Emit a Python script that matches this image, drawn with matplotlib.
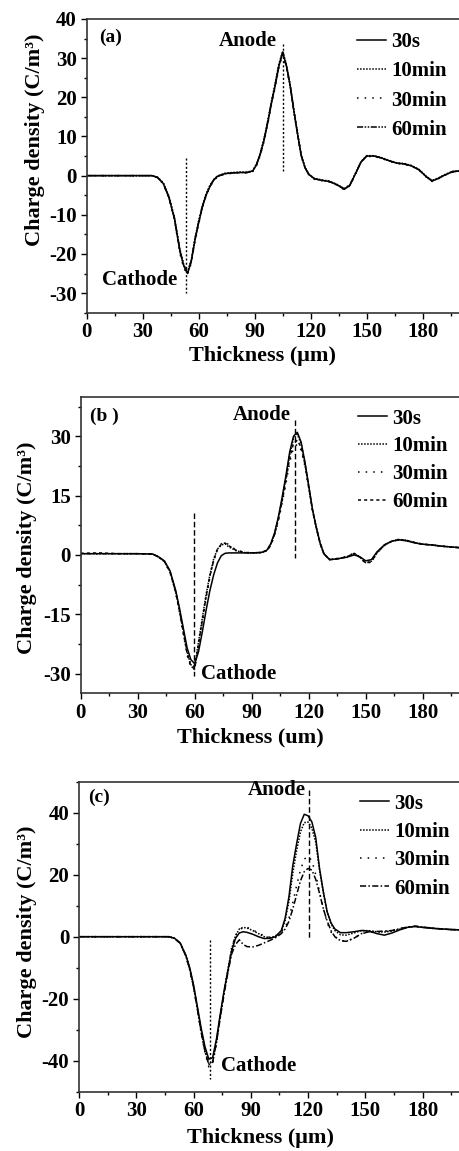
import matplotlib
matplotlib.use("Agg")
import matplotlib.pyplot as plt
from matplotlib.ticker import MultipleLocator, AutoMinorLocator

plt.rcParams['font.family'] = ['Liberation Serif', 'DejaVu Serif']
plt.rcParams['font.weight'] = 'bold'
plt.rcParams['axes.unicode_minus'] = False

# ---------------- data ----------------
series_labels = ["30s", "10min", "30min", "60min"]

# panel (a)
xa = [0, 10, 20, 30, 35, 38, 41, 44, 47, 50, 52, 54, 56, 58, 60, 62, 64, 66, 68, 70,
      74, 78, 82, 86, 89, 91, 93, 95, 97, 99, 101, 103, 105, 107, 109, 111, 113, 115, 117, 119,
      122, 126, 130, 134, 138, 141, 144, 147, 150, 154, 158, 162, 166, 170, 174, 178, 182, 185, 188, 192,
      196, 200]
ya_30s = [0, 0, 0, 0, 0, -0.5, -2, -5.5, -11, -19.5, -23, -25, -22, -16.5, -12, -8, -5, -2.8, -1.2, -0.2,
          0.5, 0.7, 0.8, 0.8, 1.2, 2.8, 5.5, 9, 13.5, 18.5, 23, 28, 31.5, 28, 23, 16.5, 10.5, 5, 2, 0.3,
          -0.8, -1.2, -1.5, -2.3, -3.5, -2.5, 0.5, 3.5, 5, 5, 4.5, 3.8, 3.2, 3, 2.5, 1.5, -0.3, -1.4, -0.8, 0.2,
          1, 1.2]
ya_10min = [0, 0, 0, 0, 0, -0.4, -1.8, -5.2, -10.6, -19, -22.8, -24.6, -21.6, -16, -11.5, -7.6, -4.6, -2.5, -1, -0.1,
            0.6, 0.8, 0.9, 0.9, 1.3, 3, 5.8, 9.4, 14, 19, 23.6, 28.6, 31.8, 28.3, 23.2, 16.8, 10.7, 5.2, 2.1, 0.4,
            -0.7, -1.1, -1.4, -2.2, -3.3, -2.3, 0.6, 3.6, 5.1, 5.1, 4.6, 3.9, 3.3, 3.1, 2.6, 1.6, -0.2, -1.2, -0.7, 0.3,
            1.1, 1.3]
ya_30min = [0, 0, 0, 0, 0, -0.5, -2.1, -5.7, -11.3, -20, -23.6, -25.3, -22.4, -16.8, -12.3, -8.2, -5.1, -2.9, -1.3, -0.3,
            0.4, 0.6, 0.7, 0.7, 1.1, 2.6, 5.2, 8.7, 13.2, 18.2, 22.7, 27.6, 31, 27.6, 22.6, 16.2, 10.3, 4.8, 1.9, 0.2,
            -0.9, -1.3, -1.6, -2.4, -3.6, -2.6, 0.4, 3.4, 4.9, 4.9, 4.4, 3.7, 3.1, 2.9, 2.4, 1.4, -0.4, -1.5, -0.9, 0.1,
            0.9, 1.1]
ya_60min = [0, 0, 0, 0, 0, -0.5, -1.9, -5.4, -10.8, -19.2, -22.9, -24.8, -21.8, -16.3, -11.8, -7.8, -4.8, -2.7, -1.1, -0.2,
            0.5, 0.7, 0.8, 0.8, 1.2, 2.9, 5.6, 9.2, 13.8, 18.8, 23.3, 28.3, 31.3, 28.1, 23, 16.6, 10.6, 5.1, 2, 0.3,
            -0.8, -1.2, -1.5, -2.3, -3.4, -2.4, 0.5, 3.5, 5, 5, 4.5, 3.8, 3.2, 3, 2.5, 1.5, -0.3, -1.3, -0.8, 0.2,
            1, 1.2]

# panel (b)
xb = [0, 10, 20, 30, 38, 41, 44, 47, 50, 52, 54, 56, 58, 60, 62, 64, 66, 68, 70, 72,
      74, 76, 78, 82, 86, 90, 95, 98, 100, 102, 104, 106, 108, 110, 112, 114, 116, 118, 120, 122,
      124, 126, 128, 131, 135, 140, 144, 147, 150, 153, 156, 160, 164, 168, 172, 176, 180, 185, 190, 195,
      200]
yb_30s = [0.3, 0.3, 0.3, 0.3, 0.2, -0.5, -1.5, -4, -9, -13.5, -18.5, -23.5, -26.5, -27.5, -24.5, -19.5, -14, -9, -5, -2,
          -0.2, 0.4, 0.5, 0.5, 0.5, 0.5, 0.6, 1.2, 2.8, 5.5, 9.5, 14.5, 20, 26, 30, 31, 28.5, 23.5, 17.5, 11.5,
          7, 3, 0.3, -1.2, -1.0, -0.6, 0, -0.5, -1.5, -1.2, 0.8, 2.6, 3.5, 3.8, 3.5, 3, 2.7, 2.5, 2.2, 2,
          1.8]
yb_10min = [0.3, 0.3, 0.3, 0.3, 0.2, -0.5, -1.6, -4.2, -9.3, -14, -19.3, -24.5, -27.8, -28.3, -22, -16, -10, -5, -1, 1.5,
            2.5, 2.8, 2, 1, 0.6, 0.5, 0.6, 1.1, 2.6, 5.3, 9.2, 14, 19.5, 25.4, 29.4, 30.5, 28.2, 23.3, 17.3, 11.3,
            6.8, 2.9, 0.2, -1.2, -1.0, -0.5, 0.3, -0.6, -2, -1.6, 0.6, 2.5, 3.5, 3.9, 3.6, 3.1, 2.7, 2.5, 2.2, 2,
            1.8]
yb_30min = [0.3, 0.3, 0.3, 0.3, 0.2, -0.6, -1.7, -4.4, -9.6, -14.5, -20, -25.3, -28.5, -29, -23, -17, -11, -5.5, -1.5, 1.5,
            2.8, 3.3, 2.5, 1.2, 0.7, 0.5, 0.6, 1, 2.3, 4.8, 8.5, 13, 18, 23.5, 27, 28, 26.5, 22.5, 17, 11.2,
            6.8, 3, 0.3, -1.1, -0.9, -0.4, 0.5, -0.6, -2.2, -1.8, 0.5, 2.5, 3.6, 4, 3.6, 3.1, 2.7, 2.5, 2.2, 2,
            1.8]
yb_60min = [0.4, 0.5, 0.3, 0.3, 0.2, -0.6, -1.6, -4.3, -9.4, -14.2, -19.6, -25, -28.2, -28.8, -22.5, -16.5, -10.5, -5.3, -1.3, 1.4,
            2.7, 3, 2.3, 1.1, 0.6, 0.5, 0.6, 1.1, 2.5, 5.1, 8.9, 13.5, 18.8, 24.5, 28.2, 29, 27.2, 23, 17.2, 11.3,
            6.9, 3, 0.3, -1.2, -1.0, -0.5, 0.4, -0.6, -2.1, -1.7, 0.6, 2.5, 3.5, 3.9, 3.6, 3.1, 2.7, 2.5, 2.2, 2,
            1.8]

# panel (c)
xc = [0, 10, 20, 30, 40, 47, 50, 53, 56, 58, 60, 62, 64, 66, 68, 70, 72, 74, 76, 78,
      80, 82, 84, 86, 88, 91, 94, 97, 100, 103, 106, 108, 110, 112, 114, 116, 118, 120, 122, 124,
      126, 128, 130, 132, 134, 137, 140, 144, 148, 152, 156, 160, 164, 168, 172, 176, 180, 185, 190, 195,
      200]
yc_30s = [0, 0, 0, 0, 0, 0, -0.5, -2, -6, -10, -15.5, -22.5, -29.5, -35.5, -39.5, -39, -33, -25, -17.5, -11,
          -4.5, -0.5, 1.2, 1.6, 1.4, 0.8, 0.0, -0.6, -0.5, 0, 2, 6, 13, 23, 30, 36.5, 39.5, 39, 37, 32,
          22, 14.5, 8, 4.5, 2.5, 1.3, 1.3, 1.6, 2, 1.8, 1.0, 0.5, 1.2, 2.2, 3, 3.3, 3, 2.7, 2.5, 2.3,
          2.2]
yc_10min = [0, 0, 0, 0, 0, 0, -0.5, -2.1, -6.2, -10.4, -16, -23.2, -30.5, -36.8, -41, -40.2, -34, -25.5, -17.5, -10.5,
            -3.8, 0.3, 2.5, 3, 2.8, 2, 1, 0, -0.3, 0.2, 1.8, 5.3, 11.5, 20.5, 27.8, 33.8, 36.8, 37, 35, 30.5,
            21.5, 14.2, 8, 4.2, 2, 0.6, 0.5, 1.2, 2, 1.9, 1.6, 1.5, 1.8, 2.4, 3, 3.3, 3, 2.7, 2.5, 2.3,
            2.2]
yc_30min = [0, 0, 0, 0, 0, 0, -0.5, -2.2, -6.3, -10.6, -16.3, -23.5, -31, -37.5, -42, -41, -34.5, -26, -18, -10.8,
            -3.5, 0.5, 2, 3.2, 3, 2.2, 1.2, 0.3, -0.2, 0.3, 1.5, 3, 6, 11, 16.5, 21.5, 25, 26, 24.5, 20,
            14.5, 9, 4.5, 1.5, 0, -1.2, -1.5, -0.5, 1, 1.5, 1.5, 1.7, 2, 2.6, 3.1, 3.4, 3.1, 2.8, 2.5, 2.3,
            2.2]
yc_60min = [0, 0, 0, 0, 0, 0, -0.5, -2.1, -6.2, -10.5, -16.2, -23.3, -30.8, -37, -41.3, -40.5, -34.2, -26, -18.5, -11.5,
            -5.5, -2.5, -1, -2.5, -3.2, -3.3, -2.8, -2, -1.2, -0.3, 1, 2.5, 5, 9, 13.5, 18, 21, 22, 21.5, 18.5,
            14, 9, 5, 2, 0, -1.3, -1.5, -0.5, 1, 1.6, 1.7, 1.8, 2, 2.6, 3.1, 3.4, 3.1, 2.8, 2.5, 2.3,
            2.2]

# electrode marker lines: x position, y from, y to
cathode_a = [53, 4.5, -30]
anode_a = [105, 33.7, 1.2]
cathode_b = [59.5, 10.5, -30.7]
anode_b = [113, 34, -0.9]
cathode_c = [68.6, -1, -46]
anode_c = [120.5, 47.2, -1.1]

# ---------------- figure ----------------
W, H = 459, 1151
fig = plt.figure(figsize=(W / 100, H / 100), dpi=100)


def px_axes(l, r, t, b):
    return [l / W, 1 - b / H, (r - l) / W, (b - t) / H]


FS = 15
styles_a = ['-', (0, (1, 1)), (0, (1, 4)), (0, (4, 1, 1, 1, 1, 1))]
styles_b = ['-', (0, (1, 1)), (0, (1, 4)), (0, (2, 2))]
styles_c = ['-', (0, (1, 1)), (0, (1, 4)), (0, (4, 1.5, 1, 1.5))]

panels = [
    dict(pos=px_axes(86.7, 460, 19, 312.7), x=xa, ys=[ya_30s, ya_10min, ya_30min, ya_60min],
         styles=styles_a, ylim=(-35, 40), major=10, tag="(a)", tagxy=(6.5, 35.2),
         anode=anode_a, cathode=cathode_a, ref_ls=[(0, (1.5, 1.5)), (0, (1.5, 1.5))],
         anode_txt=(86.5, 34.4), cathode_txt=(28.5, -26.6), cath_ha='center',
         xlabel="Thickness (\u03bcm)", xl=(0.472, -0.113), yl=(-0.112, 0.59),
         leg=(0.724, 0.955), ls=0.44),
    dict(pos=px_axes(80.7, 460.7, 396.7, 693.3), x=xb, ys=[yb_30s, yb_10min, yb_30min, yb_60min],
         styles=styles_b, ylim=(-35, 40), major=15, tag="(b )", tagxy=(5, 35.0),
         anode=anode_b, cathode=cathode_b, ref_ls=[(0, (4, 2)), (0, (4, 2))],
         anode_txt=(95.3, 35.4), cathode_txt=(63.5, -30.1), cath_ha='left',
         xlabel="Thickness (um)", xl=(0.447, -0.114), yl=(-0.115, 0.49),
         leg=(0.73, 0.96), ls=0.38),
    dict(pos=px_axes(79, 460.8, 781.7, 1091.7), x=xc, ys=[yc_30s, yc_10min, yc_30min, yc_60min],
         styles=styles_c, ylim=(-50, 50), major=20, tag="(c)", tagxy=(5, 44.8),
         anode=anode_c, cathode=cathode_c, ref_ls=[(0, (4, 2)), (0, (1.5, 1.5))],
         anode_txt=(103.5, 47.2), cathode_txt=(74.5, -41.8), cath_ha='left',
         xlabel="Thickness (\u03bcm)", xl=(0.476, -0.117), yl=(-0.11, 0.515),
         leg=(0.736, 0.961), ls=0.4),
]

for p in panels:
    ax = fig.add_axes(p['pos'])
    for y, ls, lab in zip(p['ys'], p['styles'], series_labels):
        ax.plot(p['x'], y, color='black', lw=1.1, ls=ls, label=lab)
    an, ca = p['anode'], p['cathode']
    ax.plot([an[0], an[0]], [an[1], an[2]], color='black', lw=1.0, ls=p['ref_ls'][0])
    ax.plot([ca[0], ca[0]], [ca[1], ca[2]], color='black', lw=1.0, ls=p['ref_ls'][1])

    ax.set_xlim(0, 200)
    ax.set_ylim(*p['ylim'])
    ax.xaxis.set_major_locator(MultipleLocator(30))
    ax.xaxis.set_minor_locator(AutoMinorLocator(2))
    ax.yaxis.set_major_locator(MultipleLocator(p['major']))
    ax.yaxis.set_minor_locator(AutoMinorLocator(2))
    ax.tick_params(which='major', direction='out', length=4, width=1.0, labelsize=FS, pad=3)
    ax.tick_params(which='minor', direction='out', length=2.5, width=1.0)
    ax.tick_params(top=False, right=False)
    for lab in ax.get_xticklabels() + ax.get_yticklabels():
        lab.set_fontweight('bold')
    for s in ['left', 'bottom', 'top']:
        ax.spines[s].set_linewidth(1.2)
        ax.spines[s].set_color('#333333')
    ax.spines['right'].set_visible(False)

    ax.set_xlabel(p['xlabel'], fontsize=FS + 1, fontweight='bold')
    ax.set_ylabel("Charge density (C/m\u00b3)", fontsize=FS + 1, fontweight='bold')
    ax.xaxis.set_label_coords(*p['xl'])
    ax.yaxis.set_label_coords(*p['yl'])

    ax.text(p['tagxy'][0], p['tagxy'][1], p['tag'], fontsize=FS - 1, fontweight='bold',
            ha='left', va='center')
    ax.text(p['anode_txt'][0], p['anode_txt'][1], "Anode", fontsize=FS, fontweight='bold',
            ha='center', va='center')
    ax.text(p['cathode_txt'][0], p['cathode_txt'][1], "Cathode", fontsize=FS, fontweight='bold',
            ha=p['cath_ha'], va='center')

    ax.legend(loc='upper left', bbox_to_anchor=p['leg'], frameon=False,
              handlelength=1.4, handletextpad=0.25, labelspacing=p['ls'], borderpad=0,
              borderaxespad=0, prop={'weight': 'bold', 'size': FS})

fig.savefig("out.png", dpi=100)
